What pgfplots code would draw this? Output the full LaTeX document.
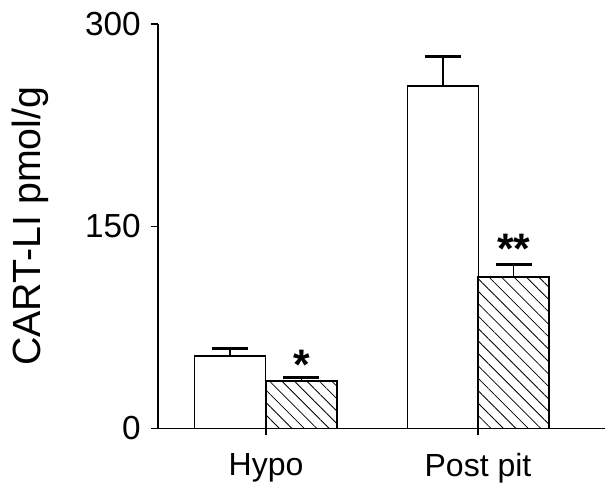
\documentclass[border=0pt]{standalone}
\usepackage{fontspec}
\setmainfont{Liberation Sans}
\usepackage{pgfplots}
\pgfplotsset{compat=1.18}
\usetikzlibrary{patterns.meta}

% open = control, hatched = treated
\pgfplotstableread{
x      y      err
0.830  53.8   5.2
1.835  254.0  21.6
}\opendata
\pgfplotstableread{
x      y      err
1.167  35.2   2.3
2.168  112.4  8.9
}\hatchdata

\begin{document}
\begin{tikzpicture}
\begin{axis}[
    name=ax,
    scale only axis,
    width=335.25pt, height=303.4pt,
    xmin=0.4906, xmax=2.599,
    ymin=0, ymax=300,
    axis x line*=bottom, axis y line*=left,
    axis line style={line width=1.3pt},
    xtick={1,2}, xticklabels={Hypo, Post pit},
    ytick={0,150,300},
    tick align=outside,
    major tick length=5pt,
    tick style={line width=0.9pt, black},
    /pgf/number format/assume math mode=true,
    xticklabel style={font=\fontsize{24}{28}\selectfont, yshift=-10pt},
    yticklabel style={font=\fontsize{25}{29}\selectfont, xshift=-4.5pt},
    every axis y label/.style={at={(axis description cs:-0.285,0.5)}, rotate=90, anchor=center,
        font=\fontsize{29.5}{33}\selectfont},
    ylabel={CART-LI pmol/g},
    ybar, bar shift=0pt, bar width=0.335,
    clip=false,
]
\addplot[draw=black, line width=1pt, fill=white,
    error bars/.cd, y dir=plus, y explicit,
    error bar style={line width=1pt, black},
    error mark options={rotate=90, line width=2.2pt, mark size=13.5pt, black}]
    table[x=x, y=y, y error=err] {\opendata};
\addplot[draw=black, line width=1pt,
    pattern={Lines[angle=-45, distance=6.6pt, line width=0.6pt]},
    error bars/.cd, y dir=plus, y explicit,
    error bar style={line width=1pt, black},
    error mark options={rotate=90, line width=2.2pt, mark size=13.5pt, black}]
    table[x=x, y=y, y error=err] {\hatchdata};
\node[font=\bfseries\fontsize{32}{32}\selectfont] at (axis cs:1.167,47) {*};
\node[font=\bfseries\fontsize{32}{32}\selectfont] at (axis cs:2.168,133) {**};
\end{axis}
\pgfresetboundingbox
\path (ax.south west) ++(-118.5pt,-42.4pt) rectangle ++(453.75pt,363.75pt);
\end{tikzpicture}
\end{document}
